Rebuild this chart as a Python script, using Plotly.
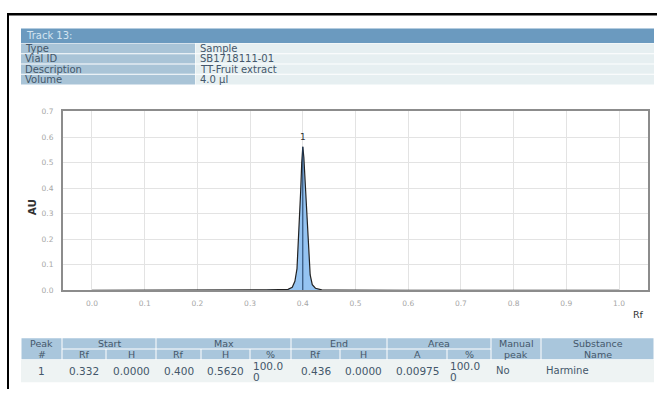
import plotly.graph_objects as go

# ---- densitogram data (Rf vs absorbance) ----
rf_points = [0.000, 0.100, 0.200, 0.300, 0.332, 0.355, 0.372, 0.380, 0.385, 0.389,
             0.392, 0.394, 0.396, 0.398, 0.400, 0.402, 0.404, 0.406, 0.408, 0.411,
             0.414, 0.418, 0.424, 0.436, 0.460, 0.600, 0.800, 1.000]
au_points = [0.000, 0.000, 0.000, 0.001, 0.002, 0.003, 0.004, 0.012, 0.035, 0.085,
             0.200, 0.290, 0.390, 0.500, 0.562, 0.520, 0.440, 0.350, 0.250, 0.130,
             0.060, 0.022, 0.008, 0.002, 0.001, 0.000, 0.000, 0.000]

x_ticks = [0.0, 0.1, 0.2, 0.3, 0.4, 0.5, 0.6, 0.7, 0.8, 0.9, 1.0]
y_ticks = [0.0, 0.1, 0.2, 0.3, 0.4, 0.5, 0.6, 0.7]

# ---- track information ----
track_title = "Track 13:"
info_labels = ["Type", "Vial ID", "Description", "Volume"]
info_values = ["Sample", "SB1718111-01", "TT-Fruit extract", "4.0 µl"]

# ---- peak table ----
peak_groups = ["Start", "Max", "End", "Area"]
peak_subheads = ["Rf", "H", "Rf", "H", "%", "Rf", "H", "A", "%"]
peak_no = 1
start_rf, start_h = 0.332, 0.0000
max_rf, max_h, max_pct = 0.400, 0.5620, 100.00
end_rf, end_h = 0.436, 0.0000
area_a, area_pct = 0.00975, 100.00
manual_peak = "No"
substance = "Harmine"

W, H = 657, 394
FONT = "DejaVu Sans"
TXT = "#44576a"


def fx(x):
    return x / W


def fy(y):
    return 1 - y / H


shapes = []
annotations = []


def rect(x0, y0, x1, y1, color, line=None, lw=0):
    shapes.append(dict(type="rect", xref="paper", yref="paper",
                       x0=fx(x0), x1=fx(x1), y0=fy(y1), y1=fy(y0),
                       fillcolor=color, line=dict(width=lw, color=line or color),
                       layer="below"))


def text(x, y, s, size=10, color=TXT, anchor="left"):
    annotations.append(dict(xref="paper", yref="paper", x=fx(x), y=fy(y), text=s,
                            showarrow=False, xanchor=anchor, yanchor="middle",
                            font=dict(family=FONT, size=size, color=color)))


# page frame
shapes.append(dict(type="line", xref="paper", yref="paper", x0=fx(7), x1=1,
                   y0=fy(10.5), y1=fy(10.5), line=dict(color="#000000", width=2.5)))
shapes.append(dict(type="line", xref="paper", yref="paper", x0=fx(8), x1=fx(8),
                   y0=fy(10), y1=0, line=dict(color="#000000", width=2)))

# track information block
rect(21, 25, 654, 40, "#6b9abf")
text(24, 32.5, track_title, 10, "#d3e4f1")
row_edges = [40, 51, 61.5, 72, 83]
for i, (lab, val) in enumerate(zip(info_labels, info_values)):
    y0, y1 = row_edges[i] + 0.5, row_edges[i + 1] - 0.5
    rect(21, y0, 195, y1, "#a9c4d7")
    rect(195.5, y0, 654, y1, "#e6eff1")
    text(23, (y0 + y1) / 2, lab, 10)
    text(198, (y0 + y1) / 2, val, 10)

# peak table
HEAD = "#a9c6dc"
col_edges = [21, 62, 106, 156, 201, 250, 291, 340, 387, 447, 491, 541, 654]
r0, r1, r2, r3 = 342, 353, 364, 387
group_spans = [(1, 3), (3, 6), (6, 8), (8, 10)]
# single cells spanning both header rows
for c, l1, l2 in [(0, "Peak", "#"), (10, "Manual", "peak"), (11, "Substance", "Name")]:
    rect(col_edges[c] + 0.5, r0, col_edges[c + 1] - 0.5, r2 - 0.5, HEAD)
    cx = (col_edges[c] + col_edges[c + 1]) / 2
    text(cx, (r0 + r1) / 2, l1, 9.5, anchor="center")
    text(cx, (r1 + r2) / 2, l2, 9.5, anchor="center")
for (a, b), g in zip(group_spans, peak_groups):
    rect(col_edges[a] + 0.5, r0, col_edges[b] - 0.5, r1 - 0.5, HEAD)
    text((col_edges[a] + col_edges[b]) / 2, (r0 + r1) / 2, g, 9.5, anchor="center")
for k, sh in enumerate(peak_subheads):
    c = k + 1
    rect(col_edges[c] + 0.5, r1 + 0.5, col_edges[c + 1] - 0.5, r2 - 0.5, HEAD)
    text((col_edges[c] + col_edges[c + 1]) / 2, (r1 + r2) / 2, sh, 9.5, anchor="center")
rect(21, r2, 654, r3, "#eef3f3")

row_vals = [str(peak_no), f"{start_rf:.3f}", f"{start_h:.4f}", f"{max_rf:.3f}",
            f"{max_h:.4f}", None, f"{end_rf:.3f}", f"{end_h:.4f}", f"{area_a:.5f}", None]
ym = (r2 + r3) / 2
for c, v in enumerate(row_vals):
    if v is not None:
        text((col_edges[c] + col_edges[c + 1]) / 2, ym, v, 10.5, anchor="center")
pct_text = f"{max_pct:.2f}"
for c, p in [(5, pct_text), (9, f"{area_pct:.2f}")]:
    text(col_edges[c] + 1, ym - 5, p[:-1], 10.5)
    text(col_edges[c] + 1, ym + 6, p[-1], 10.5)
text(col_edges[10] + 3, ym, manual_peak, 10)
text(col_edges[11] + 3, ym, substance, 10)

# axis titles
text(32, 208, "<b>AU</b>", 10.5, "#333333", anchor="center")
annotations[-1]["textangle"] = -90
text(638, 318, "Rf", 9.5, "#333333", anchor="center")

fig = go.Figure()

# shaded peak area between start and end of integration
fill_rf = [r for r in rf_points if start_rf <= r <= end_rf]
fill_au = [a for r, a in zip(rf_points, au_points) if start_rf <= r <= end_rf]
fig.add_trace(go.Scatter(x=fill_rf, y=fill_au, mode="lines", fill="tozeroy",
                         fillcolor="rgba(130,186,240,0.85)", line=dict(width=0),
                         hoverinfo="skip"))
# densitogram trace
fig.add_trace(go.Scatter(x=rf_points, y=au_points, mode="lines",
                         line=dict(color="#222222", width=1.2)))
# peak maximum marker
fig.add_trace(go.Scatter(x=[max_rf, max_rf], y=[0, max_h], mode="lines",
                         line=dict(color="#1e3d62", width=1)))

annotations.append(dict(x=max_rf, y=max_h, xref="x", yref="y", text=str(peak_no),
                        showarrow=False, yanchor="bottom", yshift=3,
                        font=dict(family=FONT, size=9, color="#333333")))

fig.update_layout(
    width=W, height=H, autosize=False,
    margin=dict(l=0, r=0, t=0, b=0),
    paper_bgcolor="#ffffff", plot_bgcolor="#ffffff",
    showlegend=False,
    shapes=shapes, annotations=annotations,
    xaxis=dict(domain=[fx(63), fx(648)], range=[-0.055, 1.055],
               tickvals=x_ticks, ticktext=[f"{v:.1f}" for v in x_ticks],
               showgrid=True, gridcolor="#e3e3e3", gridwidth=1, zeroline=False,
               showline=True, linecolor="#8c8c8c", linewidth=2, mirror=True,
               ticks="", ticklabelstandoff=5,
               tickfont=dict(family=FONT, size=7.5, color="#a6a6a6")),
    yaxis=dict(domain=[fy(293), fy(110)], range=[0, 0.7],
               tickvals=y_ticks, ticktext=[f"{v:.1f}" for v in y_ticks],
               showgrid=True, gridcolor="#e3e3e3", gridwidth=1, zeroline=False,
               showline=True, linecolor="#8c8c8c", linewidth=2, mirror=True,
               ticks="", ticklabelstandoff=6,
               tickfont=dict(family=FONT, size=7.5, color="#a6a6a6")),
)

fig.write_html("out.html")
